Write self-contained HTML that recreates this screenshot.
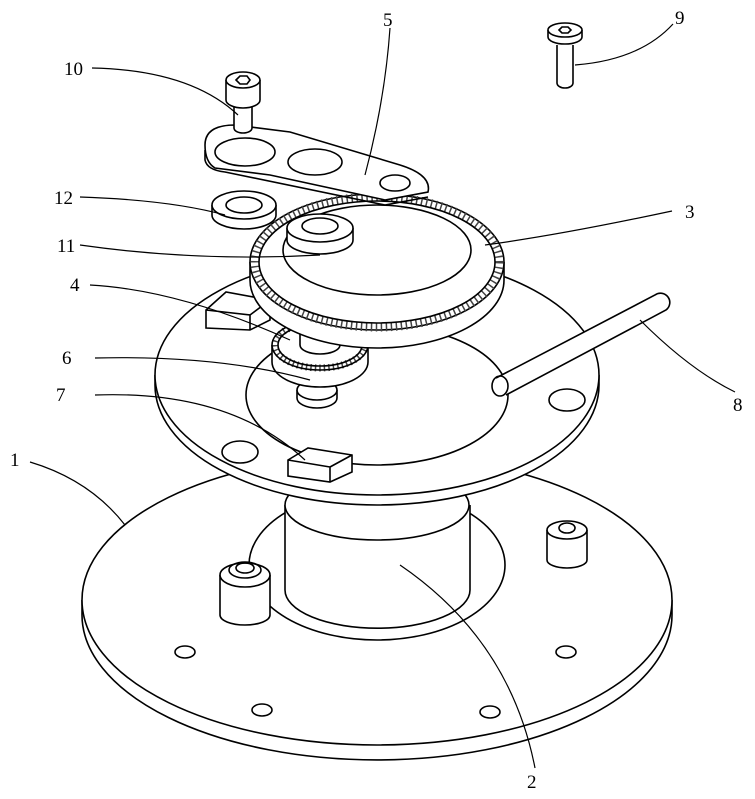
<!DOCTYPE html>
<html><head><meta charset="utf-8"><style>
html,body{margin:0;padding:0;background:#fff;}
svg{display:block}
text{font-family:"Liberation Serif",serif;font-size:19px;fill:#000}
</style></head><body>
<svg width="755" height="799" viewBox="0 0 755 799" xmlns="http://www.w3.org/2000/svg" fill="none" stroke="#000" stroke-width="1.6">
<!-- base disk 1 -->
<path d="M82,600 L82,615 A295,145 0 0 0 672,615 L672,600" fill="#fff"/>
<ellipse cx="377" cy="600" rx="295" ry="145" fill="#fff"/>
<!-- hole in base -->
<ellipse cx="377" cy="565" rx="128" ry="75" fill="#fff"/>
<!-- cylinder 2 -->
<path d="M285,505 L285,590 A92,38 0 0 0 470,590 L470,505" fill="#fff"/>
<ellipse cx="377" cy="505" rx="92" ry="35" fill="#fff"/>
<!-- small holes on base -->
<ellipse cx="185" cy="652" rx="10" ry="6"/>
<ellipse cx="566" cy="652" rx="10" ry="6"/>
<ellipse cx="262" cy="710" rx="10" ry="6"/>
<ellipse cx="490" cy="712" rx="10" ry="6"/>
<!-- posts -->
<path d="M220,575 L220,615 A25,10 0 0 0 270,615 L270,575" fill="#fff"/>
<ellipse cx="245" cy="575" rx="25" ry="12" fill="#fff"/>
<ellipse cx="245" cy="570" rx="16" ry="8"/>
<ellipse cx="245" cy="568" rx="9" ry="5"/>
<path d="M547,530 L547,560 A20,8 0 0 0 587,560 L587,530" fill="#fff"/>
<ellipse cx="567" cy="530" rx="20" ry="9" fill="#fff"/>
<ellipse cx="567" cy="528" rx="8" ry="5"/>
<!-- upper plate -->
<path d="M155,375 L155,385 A222,120 0 0 0 599,385 L599,375" fill="#fff"/>
<ellipse cx="377" cy="375" rx="222" ry="120" fill="#fff"/>
<ellipse cx="377" cy="395" rx="131" ry="70" fill="#fff"/>
<ellipse cx="240" cy="452" rx="18" ry="11"/>
<ellipse cx="567" cy="400" rx="18" ry="11"/>
<!-- block 4 left -->
<path d="M206,310 L226,292 L270,300 L270,320 L250,330 L206,328 Z" fill="#fff"/>
<path d="M206,310 L250,315 L250,330 M250,315 L270,300"/>
<!-- block 7 -->
<path d="M288,460 L308,448 L352,455 L352,472 L330,482 L288,476 Z" fill="#fff"/>
<path d="M288,460 L330,467 L330,482 M330,467 L352,455"/>
<!-- part 6 -->
<path d="M297,390 L297,398 A20,10 0 0 0 337,398 L337,390" fill="#fff"/>
<ellipse cx="317" cy="390" rx="20" ry="10" fill="#fff"/>
<!-- small gear -->
<path d="M272,345 L272,362 A48,25 0 0 0 368,362 L368,345" fill="#fff"/>
<ellipse cx="320" cy="345" rx="45" ry="23" fill="#fff" stroke="#444" stroke-width="7" stroke-dasharray="1.5,3"/>
<ellipse cx="320" cy="345" rx="48" ry="25"/>
<ellipse cx="320" cy="345" rx="42" ry="21"/>
<path d="M300,325 L300,345 A20,9 0 0 0 340,345 L340,325" fill="#fff"/>
<ellipse cx="320" cy="325" rx="20" ry="9" fill="#fff"/>
<!-- rod 8 -->
<path d="M496,378 L655,295 A9,9 0 0 1 666,310 L506,395" fill="#fff"/>
<ellipse cx="500" cy="386" rx="8" ry="10"/>
<!-- big gear 3 -->
<path d="M250,262 L250,280 A127,68 0 0 0 504,280 L504,262" fill="#fff"/>
<ellipse cx="377" cy="262" rx="127" ry="68" fill="#fff"/>
<ellipse cx="377" cy="262" rx="122" ry="65" stroke="#444" stroke-width="9" stroke-dasharray="1.5,3.5"/>
<ellipse cx="377" cy="262" rx="118" ry="61"/>
<ellipse cx="377" cy="250" rx="94" ry="45" fill="#fff"/>
<!-- bushings -->
<path d="M212,205 L212,215 A32,14 0 0 0 276,215 L276,205" fill="#fff"/>
<ellipse cx="244" cy="205" rx="32" ry="14" fill="#fff"/>
<ellipse cx="244" cy="205" rx="18" ry="8"/>
<path d="M287,228 L287,240 A33,14 0 0 0 353,240 L353,228" fill="#fff"/>
<ellipse cx="320" cy="228" rx="33" ry="14" fill="#fff"/>
<ellipse cx="320" cy="226" rx="18" ry="8"/>
<!-- arm 5 -->
<path d="M205,145 Q205,125 235,125 L290,132 L400,165 Q432,175 428,192 L385,200 L270,175 L215,168 Q205,162 205,145 Z" fill="#fff"/>
<path d="M205,150 L205,160 Q207,170 225,172 L385,205 L428,197"/>
<ellipse cx="245" cy="152" rx="30" ry="14"/>
<ellipse cx="315" cy="162" rx="27" ry="13"/>
<ellipse cx="395" cy="183" rx="15" ry="8"/>
<!-- screw 10 -->
<path d="M234,105 L234,128 A9,5 0 0 0 252,128 L252,105" fill="#fff"/>
<path d="M226,80 L226,100 A17,8 0 0 0 260,100 L260,80" fill="#fff"/>
<ellipse cx="243" cy="80" rx="17" ry="8" fill="#fff"/>
<path d="M236,80 L240,76 L247,76 L250,80 L247,84 L240,84 Z"/>
<!-- screw 9 -->
<path d="M557,45 L557,83 A8,5 0 0 0 573,83 L573,45" fill="#fff"/>
<path d="M548,30 L548,37 A17,7 0 0 0 582,37 L582,30" fill="#fff"/>
<ellipse cx="565" cy="30" rx="17" ry="7" fill="#fff"/>
<path d="M559,30 L562,27 L568,27 L571,30 L568,33 L562,33 Z"/>
<!-- leader lines -->
<g stroke-width="1.2">
<path d="M30,462 Q90,480 125,525"/>
<path d="M535,768 Q510,640 400,565"/>
<path d="M672,211 Q560,235 485,245"/>
<path d="M90,285 Q180,290 290,340"/>
<path d="M390,28 Q385,100 365,175"/>
<path d="M95,358 Q220,355 310,380"/>
<path d="M95,395 Q230,390 305,460"/>
<path d="M735,392 Q690,370 640,320"/>
<path d="M673,24 Q640,60 575,65"/>
<path d="M92,68 Q190,70 238,115"/>
<path d="M80,245 Q200,262 320,255"/>
<path d="M80,197 Q170,200 225,215"/>
</g>
<g stroke="none">
<text x="10" y="466">1</text>
<text x="527" y="788">2</text>
<text x="685" y="218">3</text>
<text x="70" y="291">4</text>
<text x="383" y="26">5</text>
<text x="62" y="364">6</text>
<text x="56" y="401">7</text>
<text x="733" y="411">8</text>
<text x="675" y="24">9</text>
<text x="64" y="75">10</text>
<text x="57" y="252">11</text>
<text x="54" y="204">12</text>
</g>
</svg>
</body></html>
